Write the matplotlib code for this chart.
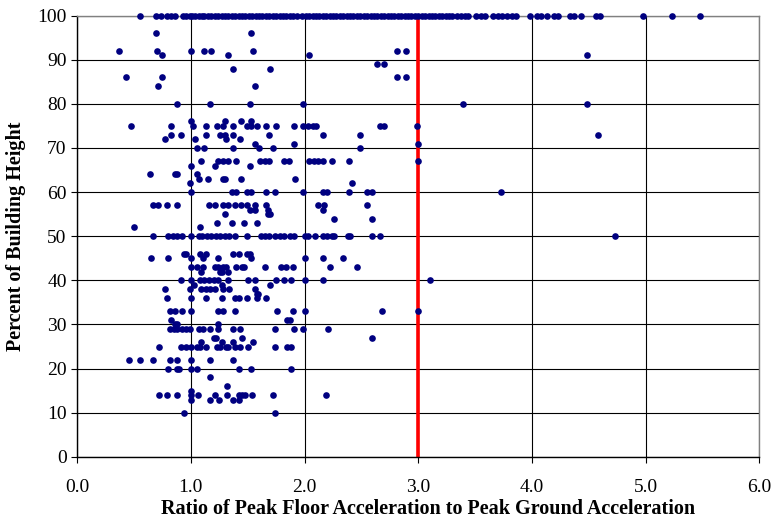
import matplotlib.pyplot as plt

# Points sitting on the 100% line (roof level)
roof_ratio = [0.55, 0.69, 0.74, 0.79, 0.83, 0.86, 0.93, 0.96, 0.99, 1.01, 1.04, 1.07,
              1.10, 1.12, 1.15, 1.18, 1.21, 1.24, 1.27, 1.30, 1.33, 1.36, 1.39, 1.42,
              1.45, 1.48, 1.51, 1.54, 1.57, 1.60, 1.63, 1.66, 1.69, 1.72, 1.75, 1.78,
              1.81, 1.84, 1.87, 1.90, 1.93, 1.98, 2.01, 2.04, 2.07, 2.10, 2.13, 2.16,
              2.19, 2.22, 2.25, 2.28, 2.31, 2.34, 2.37, 2.40, 2.43, 2.46, 2.49, 2.52,
              2.55, 2.58, 2.61, 2.64, 2.67, 2.70, 2.73, 2.76, 2.79, 2.82, 2.85, 2.88,
              2.91, 2.94, 2.97, 3.00, 3.03, 3.06, 3.09, 3.12, 3.15, 3.18, 3.21, 3.24,
              3.27, 3.30, 3.34, 3.38, 3.41, 3.44, 3.51, 3.55, 3.59, 3.66, 3.70, 3.74,
              3.78, 3.82, 3.86, 3.98, 4.04, 4.08, 4.13, 4.19, 4.23, 4.33, 4.37, 4.43,
              4.56, 4.60, 4.98, 5.23, 5.48]

# Remaining points, grouped by percent of building height
heights = [96, 92, 91, 89, 88, 86, 84, 80, 76, 75, 73, 72, 71, 70, 67, 66, 64, 63, 62,
           60, 57, 56, 55, 54, 53, 52, 50, 46, 45, 43, 42, 40, 39, 38, 37, 36, 33, 31,
           30, 29, 27, 26, 25, 22, 20, 18, 16, 15, 14, 13, 10]
ratios = [
    [0.69, 1.53],
    [0.37, 0.70, 1.00, 1.12, 1.18, 1.55, 2.81, 2.89],
    [0.75, 1.33, 2.04, 4.48],
    [2.64, 2.70],
    [1.37, 1.70],
    [0.43, 0.75, 2.81, 2.89],
    [0.71, 1.56],
    [0.88, 1.17, 1.52, 1.99, 3.39, 4.48],
    [1.00, 1.30, 1.44, 1.53],
    [0.47, 0.83, 1.02, 1.13, 1.23, 1.28, 1.37, 1.49, 1.53, 1.58, 1.66, 1.75, 1.91,
     1.99, 2.03, 2.07, 2.10, 2.66, 2.70, 2.99],
    [0.83, 0.91, 1.13, 1.26, 1.30, 1.37, 1.69, 2.16, 2.49, 4.58],
    [0.77, 1.04, 1.31, 1.43],
    [1.56, 1.91, 3.00],
    [1.05, 1.12, 1.37, 1.60, 1.72, 2.49],
    [1.09, 1.24, 1.28, 1.33, 1.40, 1.61, 1.65, 1.69, 1.82, 1.86, 2.04, 2.08, 2.12,
     2.16, 2.24, 2.39, 3.00],
    [1.00, 1.21, 1.52],
    [0.64, 0.86, 0.88, 1.05],
    [1.07, 1.15, 1.28, 1.30, 1.44, 1.92],
    [0.99, 2.42],
    [1.00, 1.36, 1.40, 1.49, 1.53, 1.66, 1.74, 1.99, 2.16, 2.20, 2.39, 2.55, 2.59, 3.73],
    [0.67, 0.71, 0.79, 0.88, 1.16, 1.21, 1.28, 1.33, 1.39, 1.44, 1.49, 1.56, 1.66,
     2.12, 2.17, 2.55],
    [1.52, 1.56, 1.68, 2.16],
    [1.30, 1.68, 1.70],
    [2.26, 2.59],
    [1.23, 1.36, 1.47, 1.58],
    [0.50, 1.08],
    [0.67, 0.80, 0.84, 0.88, 0.92, 1.00, 1.07, 1.10, 1.14, 1.18, 1.22, 1.26, 1.30,
     1.34, 1.39, 1.49, 1.62, 1.65, 1.69, 1.74, 1.78, 1.82, 1.87, 1.91, 2.00, 2.03,
     2.09, 2.16, 2.20, 2.24, 2.26, 2.38, 2.40, 2.59, 2.66, 4.73],
    [0.94, 0.96, 1.08, 1.13, 1.37, 1.42, 1.49, 1.52],
    [0.65, 0.80, 1.00, 1.11, 1.24, 1.53, 2.00, 2.16, 2.34],
    [1.00, 1.05, 1.11, 1.21, 1.24, 1.28, 1.31, 1.40, 1.45, 1.47, 1.65, 1.79, 1.84,
     1.90, 2.22, 2.46],
    [1.09, 1.26, 1.27, 1.33],
    [0.91, 1.00, 1.08, 1.12, 1.16, 1.20, 1.24, 1.33, 1.50, 1.56, 1.75, 1.82, 1.88,
     2.00, 2.16, 3.10],
    [1.03, 1.27, 1.70],
    [0.77, 0.99, 1.09, 1.13, 1.17, 1.21, 1.28, 1.34, 1.56],
    [1.58, 1.59],
    [0.79, 1.00, 1.13, 1.27, 1.39, 1.42, 1.49, 1.58, 1.66],
    [0.82, 0.86, 0.92, 1.00, 1.24, 1.28, 1.39, 1.76, 1.90, 2.00, 2.68, 3.00],
    [0.83, 1.85, 1.87],
    [0.86, 0.88, 1.24],
    [0.82, 0.85, 0.88, 0.92, 0.96, 0.99, 1.07, 1.11, 1.17, 1.24, 1.37, 1.43, 1.74,
     1.91, 1.99, 2.21],
    [1.20, 1.22, 1.45, 2.59],
    [1.09, 1.27, 1.37, 1.55],
    [0.72, 0.91, 0.96, 1.00, 1.05, 1.08, 1.13, 1.23, 1.26, 1.31, 1.33, 1.39, 1.43,
     1.50, 1.74, 1.85, 1.88],
    [0.46, 0.55, 0.67, 0.82, 0.88, 1.00, 1.17, 1.37],
    [0.80, 0.88, 0.90, 1.00, 1.05, 1.42, 1.53, 1.88],
    [1.17],
    [1.32],
    [1.00],
    [0.72, 0.79, 0.88, 1.00, 1.06, 1.21, 1.32, 1.42, 1.45, 1.48, 1.54, 1.72, 2.19],
    [1.00, 1.17, 1.25, 1.37, 1.42],
    [0.94, 1.74],
]

LIMIT_RATIO = 3.0

x_ticks = [0, 1, 2, 3, 4, 5, 6]
y_ticks = [0, 10, 20, 30, 40, 50, 60, 70, 80, 90, 100]

plt.rcParams['font.family'] = ['Liberation Serif', 'DejaVu Serif']

fig = plt.figure(figsize=(7.71, 5.18), dpi=100)
ax = fig.add_axes([0.100, 0.118, 0.885, 0.852])

# flatten to point pairs
xs = list(roof_ratio)
ys = [100] * len(roof_ratio)
for h, row in zip(heights, ratios):
    xs.extend(row)
    ys.extend([h] * len(row))

ax.plot([LIMIT_RATIO, LIMIT_RATIO], [0, 100], color='#ff0000', linewidth=2.6, zorder=2)
ax.plot(xs, ys, linestyle='none', marker='o', markersize=4.8,
        color='#000080', markeredgewidth=0, zorder=3, clip_on=False)

ax.set_xlim(0, 6)
ax.set_ylim(0, 100)
ax.set_xticks(x_ticks)
ax.set_yticks(y_ticks)
ax.set_xticklabels([f"{t:.1f}" for t in x_ticks])
ax.set_yticklabels([str(t) for t in y_ticks])
ax.tick_params(labelsize=14, direction='out', length=4, width=0.8, colors='black')
ax.tick_params(axis='x', pad=12)

ax.grid(True, color='black', linewidth=0.8)
ax.set_axisbelow(True)
for s in ax.spines.values():
    s.set_color('#808080')
    s.set_linewidth(1.0)
ax.spines['left'].set_color('black')
ax.spines['bottom'].set_color('black')

ax.set_xlabel("Ratio of Peak Floor Acceleration to Peak Ground Acceleration",
              fontsize=14.5, fontweight='bold', labelpad=0)
ax.xaxis.set_label_coords(0.515, -0.095)
ax.set_ylabel("Percent of Building Height", fontsize=14.5, fontweight='bold', labelpad=8)

fig.savefig('out.png', dpi=100, facecolor='white')
